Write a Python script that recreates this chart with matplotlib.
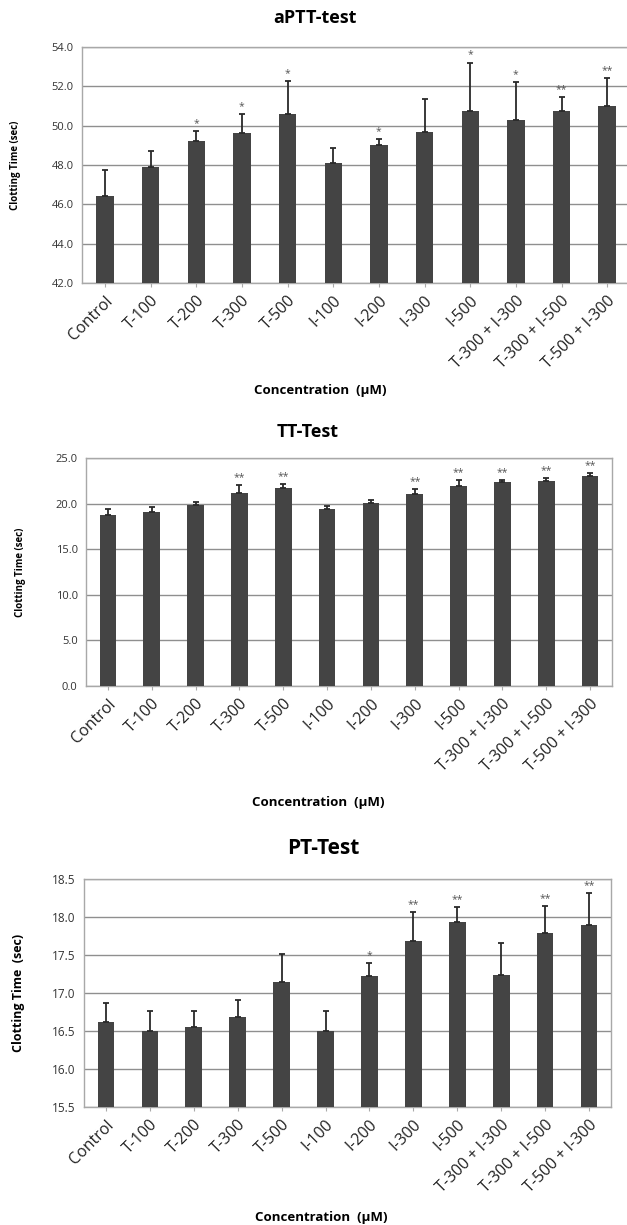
import matplotlib
matplotlib.use('Agg')
import matplotlib.pyplot as plt
import numpy as np

plt.rcParams['font.family'] = ['Open Sans', 'DejaVu Sans']

# categories shared by all three tests
groups = ['Control', 'T-100', 'T-200', 'T-300', 'T-500', 'I-100', 'I-200',
          'I-300', 'I-500', 'T-300 + I-300', 'T-300 + I-500', 'T-500 + I-300']

# aPTT test (sec)
aptt_mean = [46.4, 47.9, 49.2, 49.6, 50.6, 48.1, 49.0, 49.65, 50.76, 50.3, 50.76, 51.0]
aptt_top = [47.75, 48.7, 49.73, 50.58, 52.27, 48.85, 49.3, 51.37, 53.2, 52.22, 51.46, 52.4]
aptt_sig = ['', '', '*', '*', '*', '', '*', '', '*', '*', '**', '**']

# TT test (sec)
tt_mean = [18.75, 19.1, 19.9, 21.12, 21.74, 19.4, 20.06, 21.05, 21.96, 22.36, 22.47, 23.02]
tt_top = [19.36, 19.66, 20.17, 22.07, 22.18, 19.77, 20.42, 21.56, 22.55, 22.62, 22.8, 23.35]
tt_sig = ['', '', '', '**', '**', '', '', '**', '**', '**', '**', '**']

# PT test (sec)
pt_mean = [16.62, 16.5, 16.55, 16.69, 17.14, 16.5, 17.22, 17.68, 17.93, 17.24, 17.79, 17.9]
pt_top = [16.87, 16.77, 16.77, 16.91, 17.51, 16.77, 17.39, 18.07, 18.13, 17.66, 18.14, 18.32]
pt_sig = ['', '', '', '', '', '', '*', '**', '**', '', '**', '**']

fig = plt.figure(figsize=(6.27, 12.25), dpi=100)

bar_color = '#444444'
grid_color = '#8f8f8f'
text_color = '#333333'


def draw_panel(rect, mean, top, sig, ylim, yticks, tick_fs, xtick_fs):
    ax = fig.add_axes(rect)
    x = np.arange(len(groups))
    mean = np.array(mean)
    err = np.array(top) - mean
    ax.bar(x, mean - ylim[0], bottom=ylim[0], width=0.38, color=bar_color, zorder=3)
    ax.errorbar(x, mean, yerr=[np.zeros_like(err), err], fmt='none',
                ecolor='#2a2a2a', elinewidth=1.3, capsize=2.5, capthick=1.3, zorder=4)
    for xi, t, s in zip(x, top, sig):
        if s:
            ax.annotate(s, (xi, t), xytext=(0, 1.5), textcoords='offset points',
                        ha='center', va='bottom', fontsize=7.5, color='#555555')
    ax.set_xlim(-0.5, len(groups) - 0.5)
    ax.set_ylim(*ylim)
    ax.set_yticks(yticks)
    ax.set_yticklabels(['%.1f' % v for v in yticks], fontsize=tick_fs, color=text_color)
    ax.yaxis.grid(True, color=grid_color, linewidth=1.0, zorder=0)
    ax.set_axisbelow(True)
    ax.tick_params(axis='y', length=0, pad=6)
    ax.set_xticks(x)
    ax.set_xticklabels(groups, rotation=45, ha='right', rotation_mode='anchor',
                       fontsize=xtick_fs, color='#222222')
    ax.tick_params(axis='x', length=3, color='#aaaaaa', pad=4)
    for sp in ax.spines.values():
        sp.set_color('#a8a8a8')
        sp.set_linewidth(1.0)
    return ax


# aPTT panel (runs off the right edge like the source)
draw_panel([0.1308, 0.769, 0.874, 0.1927], aptt_mean, aptt_top, aptt_sig,
           (42, 54), np.arange(42, 54.1, 2), 8, 11.5)
fig.text(0.502, 0.9853, 'aPTT-test', ha='center', va='center', fontsize=13, fontweight='bold')
fig.text(0.024, 0.769 + 0.1927 / 2, 'Clotting Time (sec)', rotation=90, ha='center',
         va='center', fontsize=7, fontweight='bold')
fig.text(0.51, 0.6816, 'Concentration  (\u00b5M)', ha='center', va='center',
         fontsize=9.5, fontweight='bold')

# TT panel
draw_panel([0.1372, 0.44, 0.839, 0.1861], tt_mean, tt_top, tt_sig,
           (0, 25), np.arange(0, 25.1, 5), 8, 11.5)
fig.text(0.49, 0.6473, 'TT-Test', ha='center', va='center', fontsize=13, fontweight='bold')
fig.text(0.032, 0.44 + 0.1861 / 2, 'Clotting Time (sec)', rotation=90, ha='center',
         va='center', fontsize=7, fontweight='bold')
fig.text(0.507, 0.3445, 'Concentration  (\u00b5M)', ha='center', va='center',
         fontsize=9.5, fontweight='bold')

# PT panel
draw_panel([0.134, 0.0963, 0.8405, 0.1861], pt_mean, pt_top, pt_sig,
           (15.5, 18.5), np.arange(15.5, 18.51, 0.5), 8.5, 11.5)
fig.text(0.515, 0.307, 'PT-Test', ha='center', va='center', fontsize=15, fontweight='bold')
fig.text(0.029, 0.0963 + 0.1861 / 2, 'Clotting Time  (sec)', rotation=90, ha='center',
         va='center', fontsize=9, fontweight='bold')
fig.text(0.513, 0.0065, 'Concentration  (\u00b5M)', ha='center', va='center',
         fontsize=9.5, fontweight='bold')

fig.savefig('out.png', dpi=100, facecolor='white')
